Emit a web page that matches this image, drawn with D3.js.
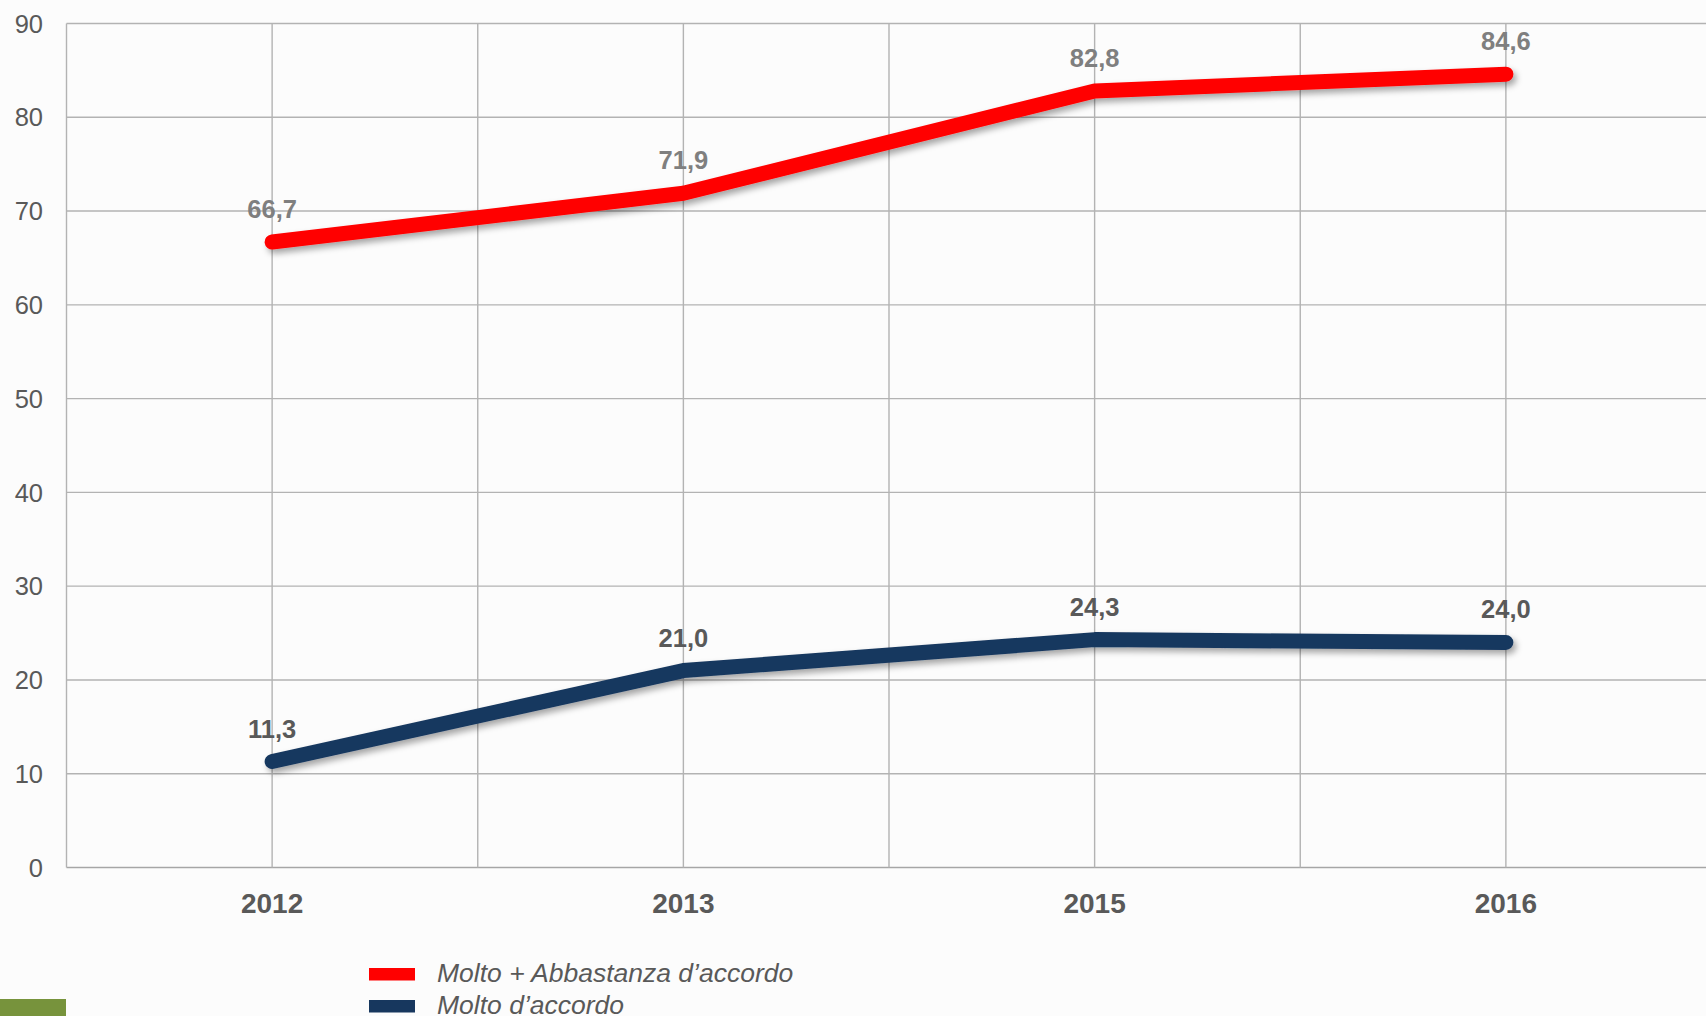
<!DOCTYPE html>
<html>
<head>
<meta charset="utf-8">
<script src="https://cdn.jsdelivr.net/npm/d3@7"></script>
<style>
  html, body { margin: 0; padding: 0; background: #fcfcfc; overflow: hidden; }
  svg { display: block; font-family: "Liberation Sans", Arial, sans-serif; }
</style>
</head>
<body>
<svg id="chart" width="1706" height="1016"></svg>
<script>
const categories = ["2012", "2013", "2015", "2016"];
const seriesNames = ["Molto + Abbastanza d\u2019accordo", "Molto d\u2019accordo"];
const seriesA = [66.7, 71.9, 82.8, 84.6];
const seriesB = [11.3, 21.0, 24.3, 24.0];
const yTicks = [0, 10, 20, 30, 40, 50, 60, 70, 80, 90];
const colors = ["#ff0000", "#17375e"];
const labelColors = ["#7f7f7f", "#595959"];

const W = 1706, H = 1016;
const pLeft = 66.5, pRight = 1711.5, pTop = 23.5, pBottom = 867.5;

const svg = d3.select("#chart");

svg.append("rect").attr("width", W).attr("height", H).attr("fill", "#fcfcfc");

const x = d3.scaleBand().domain(categories).range([pLeft, pRight]).padding(0);
const y = d3.scaleLinear().domain([0, 90]).range([pBottom, pTop]);
const xc = d => x(d) + x.bandwidth() / 2;

const defs = svg.append("defs");
const f = defs.append("filter").attr("id", "shadow")
  .attr("x", "-10%").attr("y", "-50%").attr("width", "120%").attr("height", "200%");
f.append("feDropShadow").attr("dx", 3).attr("dy", 4).attr("stdDeviation", 3)
  .attr("flood-color", "#000").attr("flood-opacity", 0.35);

const grid = svg.append("g");
grid.selectAll("line.h").data(yTicks).join("line")
  .attr("x1", pLeft).attr("x2", W)
  .attr("y1", d => y(d)).attr("y2", d => y(d))
  .attr("stroke", d => d === 0 ? "#a6a6a6" : "#b3b3b3").attr("stroke-width", 1.4);
const vlines = [];
categories.forEach(c => { vlines.push(x(c)); vlines.push(xc(c)); });
vlines.push(x(categories[categories.length - 1]) + x.bandwidth());
grid.selectAll("line.v").data(vlines).join("line")
  .attr("x1", d => d).attr("x2", d => d)
  .attr("y1", pTop).attr("y2", pBottom)
  .attr("stroke", "#b3b3b3").attr("stroke-width", 1.4);

svg.append("g").selectAll("text").data(yTicks).join("text")
  .attr("x", 43).attr("y", d => y(d)).attr("dy", "0.36em")
  .attr("text-anchor", "end").attr("font-size", 25.5).attr("fill", "#595959")
  .text(d => d);

svg.append("g").selectAll("text").data(categories).join("text")
  .attr("x", d => xc(d)).attr("y", 913)
  .attr("text-anchor", "middle").attr("font-size", 28).attr("font-weight", "bold")
  .attr("fill", "#595959").text(d => d);

const series = [seriesA, seriesB];
const line = d3.line().x((d, i) => xc(categories[i])).y(d => y(d));
series.forEach((s, k) => {
  svg.append("path").datum(s)
    .attr("d", line)
    .attr("fill", "none")
    .attr("stroke", colors[k]).attr("stroke-width", 15)
    .attr("stroke-linecap", "round").attr("stroke-linejoin", "round")
    .attr("filter", "url(#shadow)");
});

const fmt = v => v.toFixed(1).replace(".", ",");
series.forEach((s, k) => {
  svg.append("g").selectAll("text").data(s).join("text")
    .attr("x", (d, i) => xc(categories[i])).attr("y", d => y(d) - 24)
    .attr("text-anchor", "middle").attr("font-size", 25.5).attr("font-weight", "bold")
    .attr("fill", labelColors[k]).text(d => fmt(d));
});

const lg = svg.append("g");
seriesNames.forEach((name, k) => {
  const yy = 968 + k * 32;
  lg.append("rect").attr("x", 369).attr("y", yy).attr("width", 46).attr("height", 12.5)
    .attr("fill", colors[k]);
  lg.append("text").attr("x", 437).attr("y", yy + 14)
    .attr("font-size", 26.5).attr("font-style", "italic").attr("fill", "#595959")
    .text(name);
});

svg.append("rect").attr("x", 0).attr("y", 999).attr("width", 66).attr("height", 17).attr("fill", "#77933c");
</script>
</body>
</html>
